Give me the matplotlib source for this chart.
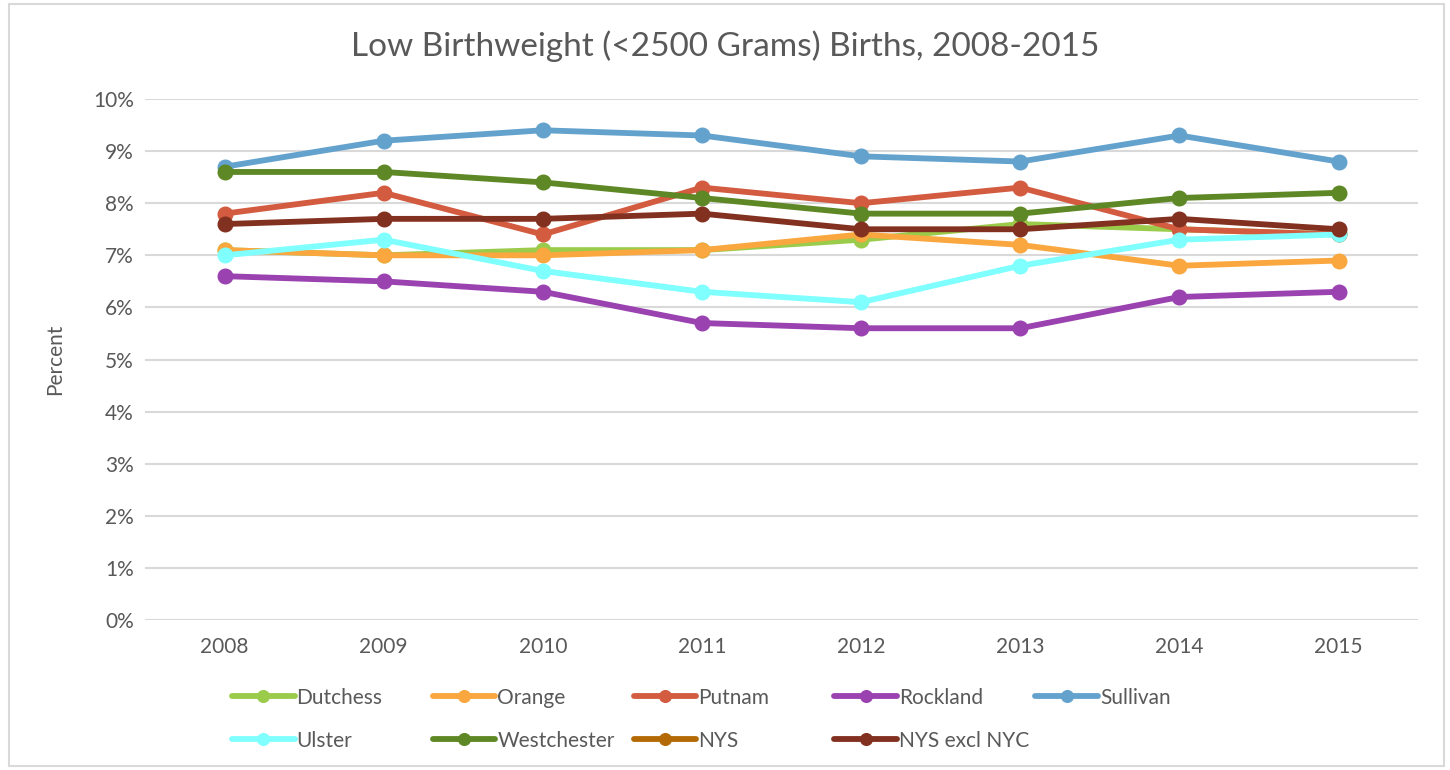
import numpy as np
import matplotlib
matplotlib.use("Agg")
import matplotlib.pyplot as plt
from matplotlib.patches import Rectangle
from matplotlib.ticker import FuncFormatter

years = ['2008', '2009', '2010', '2011', '2012', '2013', '2014', '2015']

# percent of births under 2500 g
dutchess = [7.1, 7.0, 7.1, 7.1, 7.3, 7.6, 7.5, 7.4]
orange = [7.1, 7.0, 7.0, 7.1, 7.4, 7.2, 6.8, 6.9]
putnam = [7.8, 8.2, 7.4, 8.3, 8.0, 8.3, 7.5, 7.4]
rockland = [6.6, 6.5, 6.3, 5.7, 5.6, 5.6, 6.2, 6.3]
sullivan = [8.7, 9.2, 9.4, 9.3, 8.9, 8.8, 9.3, 8.8]
ulster = [7.0, 7.3, 6.7, 6.3, 6.1, 6.8, 7.3, 7.4]
westchester = [8.6, 8.6, 8.4, 8.1, 7.8, 7.8, 8.1, 8.2]
nys = [np.nan] * 8  # shown in legend only, no values plotted
nys_excl_nyc = [7.6, 7.7, 7.7, 7.8, 7.5, 7.5, 7.7, 7.5]

series = [
    ('Dutchess', dutchess, '#9BCB4A'),
    ('Orange', orange, '#F9A73E'),
    ('Putnam', putnam, '#D35B40'),
    ('Rockland', rockland, '#9A42B0'),
    ('Sullivan', sullivan, '#64A2CE'),
    ('Ulster', ulster, '#80FFFF'),
    ('Westchester', westchester, '#5E8725'),
    ('NYS', nys, '#B46A04'),
    ('NYS excl NYC', nys_excl_nyc, '#82301F'),
]

plt.rcParams['font.family'] = ['Lato', 'DejaVu Sans']
txt = '#595959'

fig = plt.figure(figsize=(14.5, 7.7), dpi=100)
ax = fig.add_axes([0.1, 0.1948, 0.878, 0.6766])

x = np.arange(len(years))
lines = []
for name, vals, col in series:
    ln, = ax.plot(x, np.array(vals) / 100, color=col, lw=4.2, marker='o', ms=10.5,
                  label=name, solid_capstyle='round')
    lines.append(ln)

ax.set_xlim(-0.5, len(years) - 0.5)
ax.set_ylim(0, 0.10)
ax.set_yticks(np.arange(0, 0.101, 0.01))
ax.yaxis.set_major_formatter(FuncFormatter(lambda v, p: f'{v*100:.0f}%'))
ax.set_xticks(x)
ax.set_xticklabels(years)
ax.grid(axis='y', color='#D9D9D9', lw=1.5)
ax.set_axisbelow(True)
for s in ax.spines.values():
    s.set_visible(False)
ax.tick_params(length=0, labelsize=15, colors=txt, pad=8)
ax.tick_params(axis='x', pad=12)
ax.set_ylabel('Percent', fontsize=15, color=txt, labelpad=20)

fig.text(0.5, 0.94, 'Low Birthweight (<2500 Grams) Births, 2008-2015',
         ha='center', va='center', fontsize=24, color=txt)

# legend: one small legend per entry so the columns are evenly spaced
for i, ln in enumerate(lines):
    row, col = divmod(i, 5)
    fig.legend([ln], [ln.get_label()], loc='center left',
               bbox_to_anchor=(0.160 + col * 0.1385, 0.094 - row * 0.056),
               frameon=False, fontsize=15, labelcolor=txt, handlelength=3.0,
               handletextpad=0.1, borderpad=0, borderaxespad=0, markerscale=0.8)

# outer chart border
fig.patches.append(Rectangle((0.006, 0.005), 0.99, 0.99, transform=fig.transFigure,
                             fill=False, edgecolor='#D9D9D9', lw=1.5))

fig.savefig('out.png', dpi=100)
